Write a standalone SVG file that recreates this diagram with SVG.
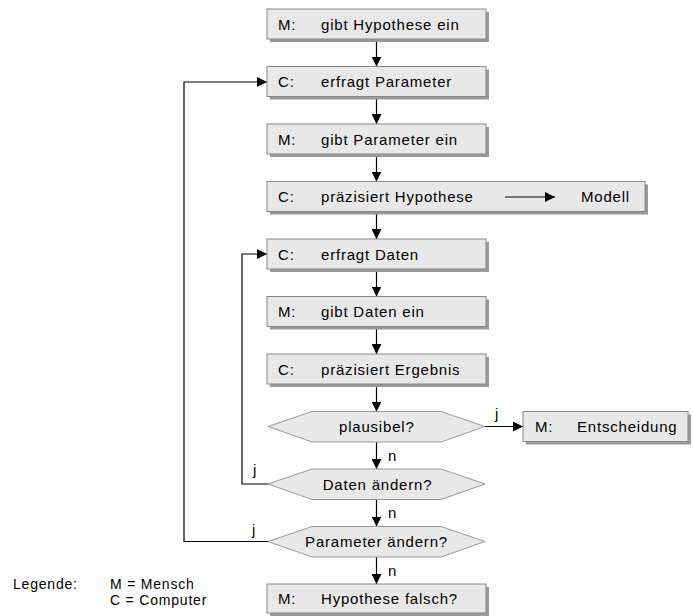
<svg xmlns="http://www.w3.org/2000/svg" width="693" height="616" viewBox="0 0 693 616">
  <style>
    text { font-family: "Liberation Sans", Arial, sans-serif; font-size: 15px; fill: #000; letter-spacing: 0.8px; }
    .box { fill: #e8e8e8; stroke: #888; stroke-width: 1; }
    .shadow { fill: #999; }
    .hex { fill: #e8e8e8; stroke: #999; stroke-width: 1; }
    .line { fill: none; stroke: #000; stroke-width: 1.2; }
    .mid { text-anchor: middle; }
    .legend { font-size: 14px; }
  </style>
  <defs>
    <marker id="arrow" viewBox="0 0 10 10" refX="10" refY="5" markerWidth="10" markerHeight="10" markerUnits="userSpaceOnUse" orient="auto">
      <path d="M0,0 L10,5 L0,10 z" fill="#000"/>
    </marker>
  </defs>
  <rect width="693" height="616" fill="#fff"/>

  <!-- connectors -->
  <g id="connectors">
    <path class="line" d="M376.5,39.5 V66.5" marker-end="url(#arrow)"/>
    <path class="line" d="M376.5,97 V124" marker-end="url(#arrow)"/>
    <path class="line" d="M376.5,154.5 V181.5" marker-end="url(#arrow)"/>
    <path class="line" d="M376.5,212 V239" marker-end="url(#arrow)"/>
    <path class="line" d="M376.5,269.5 V296.5" marker-end="url(#arrow)"/>
    <path class="line" d="M376.5,327 V354" marker-end="url(#arrow)"/>
    <path class="line" d="M376.5,384.5 V411.5" marker-end="url(#arrow)"/>
    <path class="line" d="M376.5,442 V469" marker-end="url(#arrow)"/>
    <path class="line" d="M376.5,499.5 V526.5" marker-end="url(#arrow)"/>
    <path class="line" d="M376.5,557 V584" marker-end="url(#arrow)"/>
    <path class="line" d="M485,426.5 H523" marker-end="url(#arrow)"/>
    <path class="line" d="M268,484 H242 V254 H267" marker-end="url(#arrow)"/>
    <path class="line" d="M268,541.5 H184 V82 H267" marker-end="url(#arrow)"/>
    <text x="495" y="419">j</text>
    <text x="253" y="475">j</text>
    <text x="252" y="535">j</text>
    <text x="388" y="461">n</text>
    <text x="388" y="518">n</text>
    <text x="388" y="576">n</text>
  </g>

  <g id="n1">
    <rect class="shadow" x="270" y="12" width="219" height="30"/>
    <rect class="box" x="267" y="9" width="219" height="30"/>
    <text x="278" y="29.5">M:</text><text x="321" y="29.5">gibt Hypothese ein</text>
  </g>
  <g id="n2">
    <rect class="shadow" x="270" y="69.5" width="219" height="30"/>
    <rect class="box" x="267" y="66.5" width="219" height="30"/>
    <text x="278" y="87">C:</text><text x="321" y="87">erfragt Parameter</text>
  </g>
  <g id="n3">
    <rect class="shadow" x="270" y="127" width="219" height="30"/>
    <rect class="box" x="267" y="124" width="219" height="30"/>
    <text x="278" y="144.5">M:</text><text x="321" y="144.5">gibt Parameter ein</text>
  </g>
  <g id="n4">
    <rect class="shadow" x="270" y="184.5" width="378" height="30"/>
    <rect class="box" x="267" y="181.5" width="378" height="30"/>
    <text x="278" y="202">C:</text><text x="321" y="202">präzisiert Hypothese</text>
    <path class="line" d="M505,197 H555" marker-end="url(#arrow)"/>
    <text x="581" y="202">Modell</text>
  </g>
  <g id="n5">
    <rect class="shadow" x="270" y="242" width="219" height="30"/>
    <rect class="box" x="267" y="239" width="219" height="30"/>
    <text x="278" y="259.5">C:</text><text x="321" y="259.5">erfragt Daten</text>
  </g>
  <g id="n6">
    <rect class="shadow" x="270" y="299.5" width="219" height="30"/>
    <rect class="box" x="267" y="296.5" width="219" height="30"/>
    <text x="278" y="317">M:</text><text x="321" y="317">gibt Daten ein</text>
  </g>
  <g id="n7">
    <rect class="shadow" x="270" y="357" width="219" height="30"/>
    <rect class="box" x="267" y="354" width="219" height="30"/>
    <text x="278" y="374.5">C:</text><text x="321" y="374.5">präzisiert Ergebnis</text>
  </g>
  <g id="d1">
    <polygon class="hex" points="268,426.5 312,411.5 441,411.5 485,426.5 441,442 312,442"/>
    <text x="339" y="432">plausibel?</text>
  </g>
  <g id="n8">
    <rect class="shadow" x="526" y="414.5" width="165" height="30"/>
    <rect class="box" x="523" y="411.5" width="165" height="30"/>
    <text x="535" y="432">M:</text><text x="577" y="432">Entscheidung</text>
  </g>
  <g id="d2">
    <polygon class="hex" points="268,484 312,469 441,469 485,484 441,499.5 312,499.5"/>
    <text class="mid" x="377.5" y="489.5">Daten ändern?</text>
  </g>
  <g id="d3">
    <polygon class="hex" points="268,541.5 312,526.5 441,526.5 485,541.5 441,557 312,557"/>
    <text class="mid" x="376.5" y="547">Parameter ändern?</text>
  </g>
  <g id="n9">
    <rect class="shadow" x="270" y="587" width="219" height="29"/>
    <rect class="box" x="267" y="584" width="219" height="29"/>
    <text x="278" y="604">M:</text><text x="321" y="604">Hypothese falsch?</text>
  </g>

  <g id="legend">
    <text class="legend" x="13" y="589">Legende:</text>
    <text class="legend" x="110" y="589">M = Mensch</text>
    <text class="legend" x="110" y="605">C = Computer</text>
  </g>
</svg>
